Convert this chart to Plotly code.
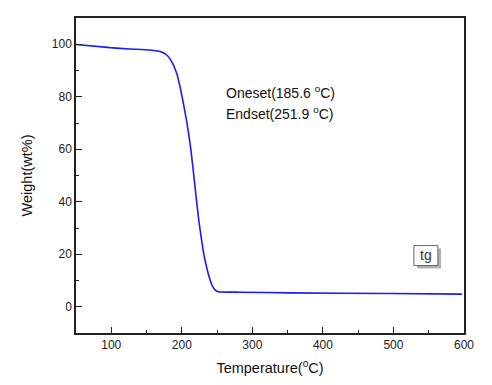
import plotly.graph_objects as go

temperature = [50, 98.2, 126.5, 154.9, 169.1, 178.6, 185.7, 192.7, 197.4, 202.1, 206.9,
               210.0, 213.0, 217.2, 221.1, 224.5, 228.1, 230.4, 233.0, 235.2, 237.5,
               239.9, 243.0, 247.0, 251.7, 282.5, 353.3, 495.1, 597]
weight = [99.9, 98.7, 98.2, 97.8, 97.2, 95.9, 93.4, 89.0, 83.9, 77.6, 70.6,
          65.3, 59.5, 49.5, 39.8, 32.0, 25.3, 21.2, 17.6, 15.0, 12.6,
          10.4, 8.1, 6.4, 5.7, 5.55, 5.3, 5.05, 4.8]

x_ticks = [100, 200, 300, 400, 500, 600]
y_ticks = [0, 20, 40, 60, 80, 100]

FONT = "Arial, Liberation Sans, sans-serif"

fig = go.Figure()
fig.add_trace(go.Scatter(x=temperature, y=weight, mode="lines",
                         line=dict(color="#1a1aff", width=1.6, shape="spline", smoothing=0.5),
                         name="tg", showlegend=False))

axis_common = dict(showgrid=False, zeroline=False, showline=True, linecolor="#222",
                   linewidth=1.5, mirror=True, ticks="inside", ticklen=6, tickwidth=1.2,
                   tickcolor="#222", automargin=False,
                   tickfont=dict(size=12, color="#222", family=FONT))

fig.update_xaxes(range=[50, 600], tickvals=x_ticks,
                 minor=dict(ticks="inside", ticklen=3, tickwidth=1.2, tickcolor="#222", dtick=50),
                 title=dict(text="Temperature(<sup>o</sup>C)", font=dict(size=14.5, color="#111", family=FONT),
                            standoff=12),
                 **axis_common)
fig.update_yaxes(range=[-10, 110], tickvals=y_ticks,
                 minor=dict(ticks="inside", ticklen=3, tickwidth=1.2, tickcolor="#222", dtick=10),
                 title=dict(text="Weight(wt%)", font=dict(size=14.5, color="#111", family=FONT),
                            standoff=16),
                 **axis_common)

fig.add_annotation(x=260, y=82, xref="x", yref="y", xanchor="left", yanchor="middle",
                   text="Oneset(185.6 <sup>o</sup>C)", showarrow=False,
                   font=dict(size=14, color="#111", family=FONT))
fig.add_annotation(x=260, y=74, xref="x", yref="y", xanchor="left", yanchor="middle",
                   text="Endset(251.9 <sup>o</sup>C)", showarrow=False,
                   font=dict(size=14, color="#111", family=FONT))

# legend box with drop shadow
fig.add_shape(type="rect", xref="x", yref="y", x0=533.5, x1=567.5, y0=14.6, y1=22.2,
              fillcolor="#b0b0b0", line=dict(width=0), layer="above")
fig.add_shape(type="rect", xref="x", yref="y", x0=529, x1=563, y0=15.7, y1=23.3,
              fillcolor="white", line=dict(color="#666", width=1), layer="above")
fig.add_annotation(x=546, y=19.6, xref="x", yref="y", text="tg", showarrow=False,
                   font=dict(size=14, color="#333", family=FONT))

fig.update_layout(width=484, height=377, margin=dict(l=68, r=28, t=10, b=52),
                  plot_bgcolor="white", paper_bgcolor="white",
                  font=dict(family=FONT))

fig.write_html("out.html")
